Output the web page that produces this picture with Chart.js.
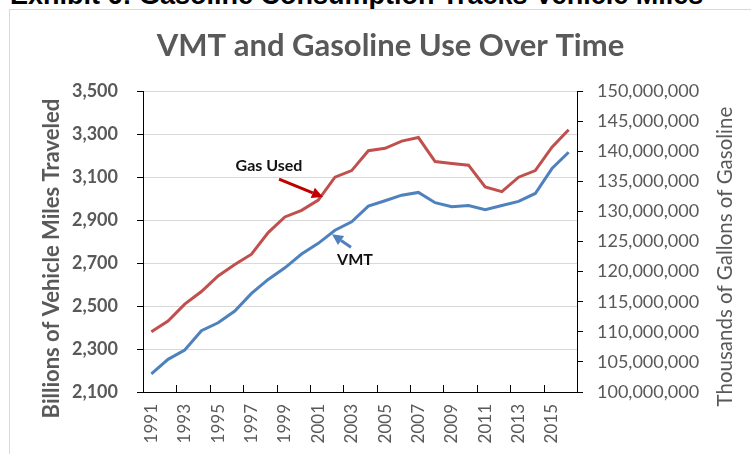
<!DOCTYPE html>
<html>
<head>
<meta charset="utf-8">
<title>VMT and Gasoline Use Over Time</title>
<script src="https://cdn.jsdelivr.net/npm/chart.js@4.4.1/dist/chart.umd.min.js"></script>
<style>
  html, body { margin: 0; padding: 0; background: #fff; }
  body { width: 751px; height: 454px; overflow: hidden; position: relative; }
  #frame { position: absolute; left: 9px; top: 9px; width: 800px; height: 500px; border: 1px solid #d9d9d9; }
  #exhibit { position: absolute; left: 10px; top: -18px; font: bold 27px "Liberation Sans", Arial, sans-serif; line-height: 27px; white-space: nowrap; color: #000; }
  #wrap { position: absolute; left: 0; top: 0; width: 751px; height: 454px; }
</style>
</head>
<body>
<div id="exhibit">Exhibit 6: Gasoline Consumption Tracks Vehicle Miles</div>
<div id="frame"></div>
<div id="wrap"><canvas id="chart"></canvas></div>
<script>
// --- DATA ---
const years = ['1991', '1992', '1993', '1994', '1995', '1996', '1997', '1998', '1999', '2000',
    '2001', '2002', '2003', '2004', '2005', '2006', '2007', '2008', '2009', '2010',
    '2011', '2012', '2013', '2014', '2015', '2016'];

// billions of vehicle miles traveled (left axis)
const vmt = [2184, 2252, 2295, 2385, 2422, 2477, 2559, 2624, 2678, 2742,
    2792, 2853, 2892, 2965, 2990, 3016, 3029, 2981, 2962, 2968,
    2949, 2968, 2987, 3024, 3140, 3216];

// thousands of gallons of gasoline (right axis)
const gasUsed = [110000000, 111800000, 114600000, 116700000, 119300000, 121200000, 122900000, 126500000, 129100000, 130200000,
    131900000, 135700000, 136800000, 140100000, 140500000, 141700000, 142300000, 138300000, 138000000, 137700000,
    134100000, 133300000, 135700000, 136800000, 140700000, 143600000];

const chartTitle = 'VMT and Gasoline Use Over Time';
const leftTitle = 'Billions of Vehicle Miles Traveled';
const rightTitle = 'Thousands of Gallons of Gasoline';

// callouts, placed in data units (x = category index, y = left axis value)
const callouts = [
    { text: 'Gas Used', at: [7.05, 3151], from: [7.65, 3091], to: [10.28, 3007], color: '#C00000' },
    { text: 'VMT', at: [12.2, 2714], from: [11.96, 2774], to: [10.82, 2834], color: '#4F81BD' }
];

const GRAY = '#595959';
const FONT = 'Lato, "Open Sans", sans-serif';

// --- PLUGINS ---
const extras = {
    id: 'extras',
    afterDraw(chart) {
        const { ctx, chartArea, scales } = chart;
        const x = scales.x, y = scales.y;

        // inside tick marks on the category axis, every second year
        ctx.save();
        ctx.strokeStyle = '#000';
        ctx.lineWidth = 1;
        for (let i = 2; i < years.length; i += 2) {
            const px = Math.round(x.getPixelForValue(i - 0.5)) + 0.5;
            ctx.beginPath();
            ctx.moveTo(px, chartArea.bottom);
            ctx.lineTo(px, chartArea.bottom - 7);
            ctx.stroke();
        }

        // axis titles
        const midY = (chartArea.top + chartArea.bottom) / 2 + 16;
        ctx.fillStyle = GRAY;
        ctx.textAlign = 'center';
        ctx.textBaseline = 'middle';
        ctx.save();
        ctx.translate(52, midY + 1);
        ctx.rotate(-Math.PI / 2);
        ctx.font = 'bold 22px ' + FONT;
        ctx.fillText(leftTitle, 0, 0);
        ctx.restore();
        ctx.save();
        ctx.translate(725, midY - 1);
        ctx.rotate(-Math.PI / 2);
        ctx.font = '20.5px ' + FONT;
        ctx.fillText(rightTitle, 0, 0);
        ctx.restore();

        // callouts with arrows
        callouts.forEach(c => {
            ctx.fillStyle = '#111';
            ctx.font = 'bold 16px ' + FONT;
            ctx.fillText(c.text, x.getPixelForValue(c.at[0]), y.getPixelForValue(c.at[1]));

            const x1 = x.getPixelForValue(c.from[0]), y1 = y.getPixelForValue(c.from[1]);
            const x2 = x.getPixelForValue(c.to[0]), y2 = y.getPixelForValue(c.to[1]);
            const ang = Math.atan2(y2 - y1, x2 - x1);
            const head = 11, half = 5.5;
            const bx = x2 - head * Math.cos(ang), by = y2 - head * Math.sin(ang);
            ctx.strokeStyle = c.color;
            ctx.fillStyle = c.color;
            ctx.lineWidth = 3;
            ctx.beginPath();
            ctx.moveTo(x1, y1);
            ctx.lineTo(bx, by);
            ctx.stroke();
            ctx.beginPath();
            ctx.moveTo(x2, y2);
            ctx.lineTo(bx + half * Math.sin(ang), by - half * Math.cos(ang));
            ctx.lineTo(bx - half * Math.sin(ang), by + half * Math.cos(ang));
            ctx.closePath();
            ctx.fill();
        });
        ctx.restore();
    }
};

// --- CHART ---
const fmt = v => Number(v).toLocaleString('en-US');

new Chart(document.getElementById('chart'), {
    type: 'line',
    data: {
        labels: years,
        datasets: [
            {
                label: 'Gas Used',
                data: gasUsed,
                yAxisID: 'y2',
                borderColor: '#C0504D',
                borderWidth: 3,
                pointRadius: 0,
                tension: 0
            },
            {
                label: 'VMT',
                data: vmt,
                yAxisID: 'y',
                borderColor: '#4F81BD',
                borderWidth: 3,
                pointRadius: 0,
                tension: 0
            }
        ]
    },
    options: {
        responsive: true,
        maintainAspectRatio: false,
        animation: false,
        layout: { padding: { left: 40, right: 10, top: 12, bottom: 0 } },
        plugins: {
            legend: { display: false },
            tooltip: { enabled: false },
            title: {
                display: true,
                text: chartTitle,
                color: GRAY,
                font: { family: FONT, size: 31, weight: 'bold' },
                padding: { top: 15, bottom: 27 }
            }
        },
        scales: {
            x: {
                offset: true,
                grid: { drawOnChartArea: false, drawTicks: false },
                border: { color: '#000', width: 1 },
                ticks: {
                    autoSkip: false,
                    maxRotation: 90,
                    minRotation: 90,
                    padding: 12,
                    color: GRAY,
                    font: { family: FONT, size: 17 },
                    callback(val, idx) { return idx % 2 === 0 ? this.getLabelForValue(val) : ''; }
                },
                afterFit(scale) { scale.height = 62; }
            },
            y: {
                position: 'left',
                min: 2100,
                max: 3500,
                ticks: {
                    stepSize: 200,
                    padding: 19,
                    color: GRAY,
                    font: { family: FONT, size: 18, weight: 'bold' },
                    callback: fmt
                },
                grid: { color: '#d9d9d9', tickColor: '#000', tickLength: 6 },
                border: { color: '#000', width: 1 },
                afterFit(scale) { scale.width = 103; }
            },
            y2: {
                position: 'right',
                min: 100000000,
                max: 150000000,
                ticks: {
                    stepSize: 5000000,
                    padding: 14,
                    color: GRAY,
                    font: { family: FONT, size: 18 },
                    callback: fmt
                },
                grid: { drawOnChartArea: false, tickColor: '#000', tickLength: 6 },
                border: { color: '#000', width: 1 },
                afterFit(scale) { scale.width = 164; }
            }
        }
    },
    plugins: [extras]
});
</script>
</body>
</html>
